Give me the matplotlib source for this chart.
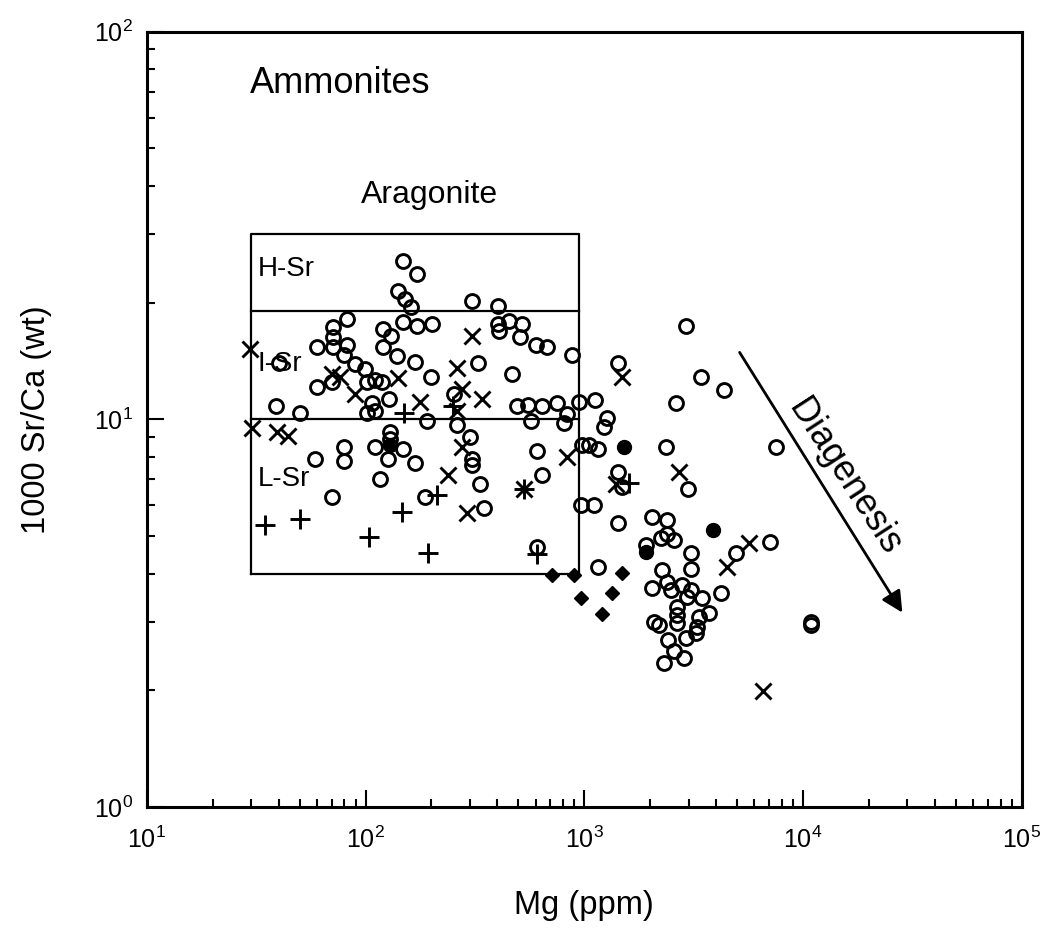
import math
import matplotlib.pyplot as plt
from matplotlib.ticker import LogLocator, FuncFormatter, NullFormatter

plt.rcParams['font.family'] = ['Liberation Sans', 'DejaVu Sans']
plt.rcParams['mathtext.fontset'] = 'custom'
plt.rcParams['mathtext.rm'] = 'Liberation Sans'
plt.rcParams['mathtext.it'] = 'Liberation Sans'

# open circles (Mg ppm, 1000 Sr/Ca)
open_mg = [148, 171, 140, 151, 162, 148, 171, 82, 71, 71, 82, 60, 71, 80, 120, 131,
           120, 139, 89, 99, 40, 168, 60, 70, 102, 110, 119, 128, 107, 39, 50, 101,
           110, 129, 129, 110, 148, 126, 168, 80, 80, 59, 116, 70,
           305, 405, 202, 403, 407, 455, 521, 507, 604, 678, 881, 328, 200, 469, 255,
           490, 550, 643, 753, 948,
           836, 811, 573, 261, 190, 299, 308, 308, 332, 186, 349, 610, 643, 980, 968, 610,
           2920, 1430, 3420, 4350, 2630, 1120, 1270, 1230, 1050, 1160, 2370, 1420,
           1480, 2990, 1110, 1430, 2050, 2390, 2250, 2390, 2580, 1920, 3080, 4940,
           1150, 3080, 2270, 2390, 2050, 2500, 2800, 3080, 2950, 3460, 4230, 2660,
           3720, 3350, 2660, 2660, 3280, 2090, 2200, 3250, 2920, 2420, 2580, 2860, 2320,
           7530, 7070, 10900, 10900]
open_sr = [25.6, 23.7, 21.4, 20.4, 19.5, 17.8, 17.4, 18.1, 17.3, 16.3, 15.6, 15.4, 15.4, 14.7, 17.1, 16.4,
           15.4, 14.6, 13.9, 13.5, 14.0, 14.1, 12.1, 12.5, 12.5, 12.6, 12.5, 11.3, 11.0, 10.8, 10.4, 10.4,
           10.5, 9.3, 8.9, 8.5, 8.4, 7.9, 7.7, 8.5, 7.8, 7.9, 7.0, 6.3,
           20.2, 19.6, 17.6, 17.6, 16.9, 17.9, 17.6, 16.3, 15.6, 15.4, 14.7, 14.0, 12.9, 13.1, 11.6,
           10.8, 10.9, 10.8, 11.0, 11.1,
           10.3, 9.8, 9.9, 9.7, 9.9, 9.0, 7.9, 7.65, 6.8, 6.3, 5.9, 8.3, 7.2, 8.6, 6.0, 4.7,
           17.4, 14.0, 12.9, 11.9, 11.0, 11.2, 10.1, 9.55, 8.6, 8.4, 8.5, 7.3,
           6.7, 6.6, 6.0, 5.4, 5.6, 5.5, 4.95, 5.05, 4.9, 4.73, 4.53, 4.53,
           4.17, 4.12, 4.1, 3.81, 3.68, 3.64, 3.74, 3.64, 3.49, 3.46, 3.57, 3.29,
           3.17, 3.10, 3.13, 2.99, 2.92, 3.0, 2.95, 2.81, 2.73, 2.69, 2.52, 2.43, 2.36,
           8.5, 4.84, 3.0, 2.95]

# filled circles
fill_mg = [129, 1520, 1920, 3880]
fill_sr = [8.57, 8.5, 4.54, 5.2]

# filled diamonds
dia_mg = [714, 900, 1490, 968, 1340, 1210]
dia_sr = [3.98, 3.98, 4.02, 3.47, 3.57, 3.15]

# crosses
x_mg = [29.5, 70, 76, 89, 140, 30.1, 39.3, 44, 305, 263, 277, 339, 177, 261, 277, 237,
        292, 532, 836, 1480, 2720, 1400, 4500, 5670, 6560]
x_sr = [15.2, 13.1, 12.9, 11.6, 12.8, 9.5, 9.26, 9.04, 16.4, 13.6, 12.0, 11.3, 11.1, 10.5, 8.5, 7.2,
        5.75, 6.6, 8.0, 12.9, 7.3, 6.8, 4.17, 4.81, 1.99]

# plus signs
p_mg = [34.6, 50, 104, 146, 150, 213, 192, 532, 610, 1600, 250]
p_sr = [5.35, 5.52, 4.96, 5.78, 10.4, 6.4, 4.53, 6.6, 4.5, 6.87, 10.8]

# aragonite field
box_mg = [30, 950]
box_sr = [4, 30]
h_sr = 19
l_sr = 10

fig = plt.figure(figsize=(10.49, 9.32), dpi=100)
ax = fig.add_axes([0.140, 0.134, 0.834, 0.832])
ax.set_xscale('log')
ax.set_yscale('log')
ax.set_xlim(10, 1e5)
ax.set_ylim(1, 100)

# field box
ax.plot([box_mg[0], box_mg[1], box_mg[1], box_mg[0], box_mg[0]],
        [box_sr[0], box_sr[0], box_sr[1], box_sr[1], box_sr[0]], color='black', lw=1.6)
ax.plot(box_mg, [h_sr, h_sr], color='black', lw=1.6)
ax.plot(box_mg, [l_sr, l_sr], color='black', lw=1.6)

ax.plot(open_mg, open_sr, 'o', ms=10, mfc='none', mec='black', mew=2.1)
ax.plot(fill_mg, fill_sr, 'o', ms=10, mfc='black', mec='black')
ax.plot(dia_mg, dia_sr, 'D', ms=7, mfc='black', mec='black')
ax.plot(x_mg, x_sr, 'x', ms=12, mec='black', mew=2.1)
ax.plot(p_mg, p_sr, '+', ms=15, mec='black', mew=2.1)

ax.text(32, 24.5, 'H-Sr', fontsize=20, va='center')
ax.text(32, 13.9, 'I-Sr', fontsize=20, va='center')
ax.text(32, 7.0, 'L-Sr', fontsize=20, va='center')
ax.text(196, 38, 'Aragonite', fontsize=23, ha='center', va='center')
ax.text(29.5, 73.5, 'Ammonites', fontsize=26, va='center')

ax.annotate('', xy=(28900, 3.13), xytext=(5050, 15.1),
            arrowprops=dict(arrowstyle='-|>', lw=2, color='black', mutation_scale=32))
ax.text(15400, 7.08, 'Diagenesis', fontsize=26, rotation=-57,
        rotation_mode='anchor', ha='center', va='center')

ax.xaxis.set_major_locator(LogLocator(base=10, numticks=10))
ax.yaxis.set_major_locator(LogLocator(base=10, numticks=10))
ax.xaxis.set_minor_locator(LogLocator(base=10, subs=range(2, 10), numticks=10))
ax.yaxis.set_minor_locator(LogLocator(base=10, subs=range(2, 10), numticks=10))
fmt = FuncFormatter(lambda v, pos: r'$\mathregular{10^{%d}}$' % round(math.log10(v)))
ax.xaxis.set_major_formatter(fmt)
ax.yaxis.set_major_formatter(fmt)
ax.xaxis.set_minor_formatter(NullFormatter())
ax.yaxis.set_minor_formatter(NullFormatter())
ax.tick_params(which='both', direction='in', labelsize=18, width=1.5)
ax.tick_params(which='major', length=12)
ax.tick_params(axis='x', which='major', pad=14)
ax.tick_params(axis='y', which='major', pad=10)
ax.tick_params(which='minor', length=6)
for s in ax.spines.values():
    s.set_linewidth(2.2)

ax.set_xlabel('Mg (ppm)', fontsize=23.5, labelpad=27)
ax.set_ylabel('1000 Sr/Ca (wt)', fontsize=23.5, labelpad=30)

fig.savefig('out.png', dpi=100)
